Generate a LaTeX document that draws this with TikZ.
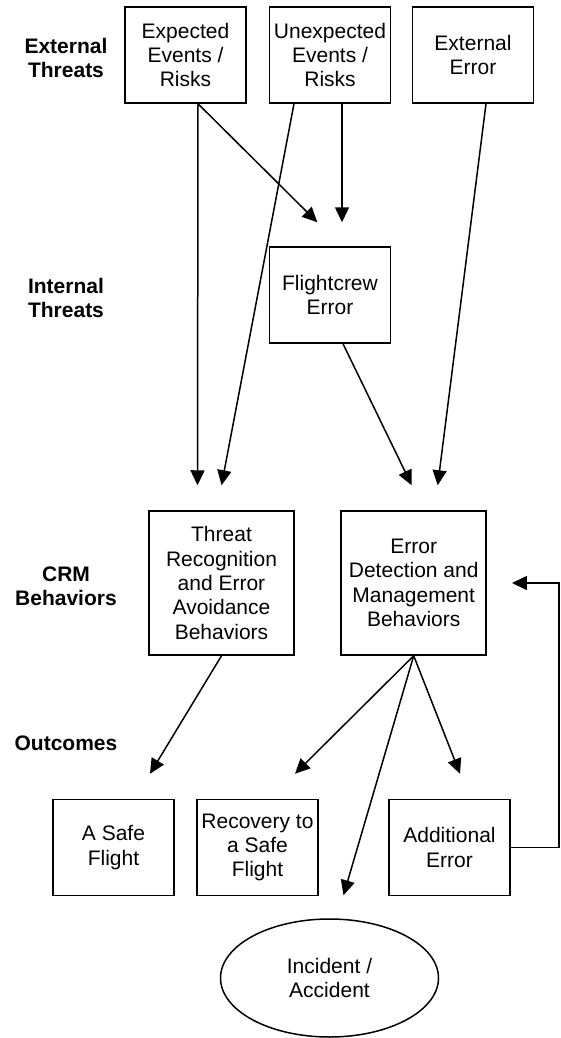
\documentclass[tikz,border=0pt]{standalone}
\usepackage{fontspec}
\setmainfont{Liberation Sans}
\usetikzlibrary{shapes.geometric, arrows.meta, positioning, calc}

\begin{document}
\begin{tikzpicture}[x=1pt, y=-1pt, line width=1.5pt,
    box/.style={rectangle, draw, align=center, inner sep=2pt,
      minimum width=121pt, minimum height=96pt,
      font=\fontsize{21}{24.4}\selectfont},
    bigbox/.style={box, minimum width=145pt, minimum height=144pt},
    rowlbl/.style={align=center, font=\fontsize{21}{24.4}\selectfont\bfseries},
    arr/.style={-{Triangle[length=15pt, width=14pt]}}]
  \useasboundingbox (0,0) rectangle (560,1038);

  % Row labels on the left
  \foreach \y/\lbl/\nm in {58/{External\\Threats}/lext, 298/{Internal\\Threats}/lint,
                           586/{CRM\\Behaviors}/lcrm, 743/{Outcomes}/lout} {
    \node[rowlbl] (\nm) at (66,\y) {\lbl};
  }

  % Threats
  \node[box] (exp) at (185.5,55) {Expected\\Events /\\Risks};
  \node[box] (unexp) at (330,55) {Unexpected\\Events /\\Risks};
  \node[box] (exterr) at (473,55) {External\\Error};
  \node[box] (crew) at (330,295) {Flightcrew\\Error};

  % CRM behaviors
  \node[bigbox] (avoid) at (221.5,583)
    {Threat\\Recognition\\and Error\\Avoidance\\Behaviors};
  \node[bigbox] (manage) at (413.7,583)
    {Error\\Detection and\\Management\\Behaviors};

  % Outcomes
  \node[box] (safe) at (113.5,847.5) {A Safe\\Flight};
  \node[box] (recov) at (257.5,847.5) {Recovery to\\a Safe\\Flight};
  \node[box] (adderr) at (449.5,847.5) {Additional\\Error};
  \node[ellipse, draw, minimum width=218pt, minimum height=118pt, inner sep=0pt,
        font=\fontsize{21}{24.4}\selectfont, align=center]
    (incid) at (329.5,978) {Incident /\\Accident};

  % Threats into flightcrew error and behaviors
  \draw[arr] ([xshift=12.5pt]exp.south) -- ([xshift=-12.7pt,yshift=24pt]crew.north);
  \draw[arr] ([xshift=12pt]unexp.south) -- ([xshift=12pt,yshift=24pt]crew.north);
  \draw[arr] ([xshift=12.5pt]exp.south) -- ([xshift=-24pt,yshift=25pt]avoid.north);
  \draw[arr] ([xshift=-36pt]unexp.south) -- ([yshift=25pt]avoid.north);
  \draw[arr] ([xshift=13pt]crew.south) -- ([xshift=-2pt,yshift=25pt]manage.north);
  \draw[arr] ([xshift=13pt]exterr.south) -- ([xshift=24pt,yshift=25pt]manage.north);

  % Behaviors into outcomes
  \draw[arr] (avoid.south) -- ([xshift=36.5pt,yshift=25pt]safe.north);
  \draw[arr] (manage.south) -- ([xshift=37.5pt,yshift=25pt]recov.north);
  \draw[arr] (manage.south) -- ([xshift=14pt,yshift=23pt]incid.north);
  \draw[arr] (manage.south) -- ([xshift=10.5pt,yshift=25pt]adderr.north);

  % Feedback loop
  \draw[arr] (adderr.east) -- ++(48,0) |- ([xshift=25pt]manage.east);
\end{tikzpicture}
\end{document}
